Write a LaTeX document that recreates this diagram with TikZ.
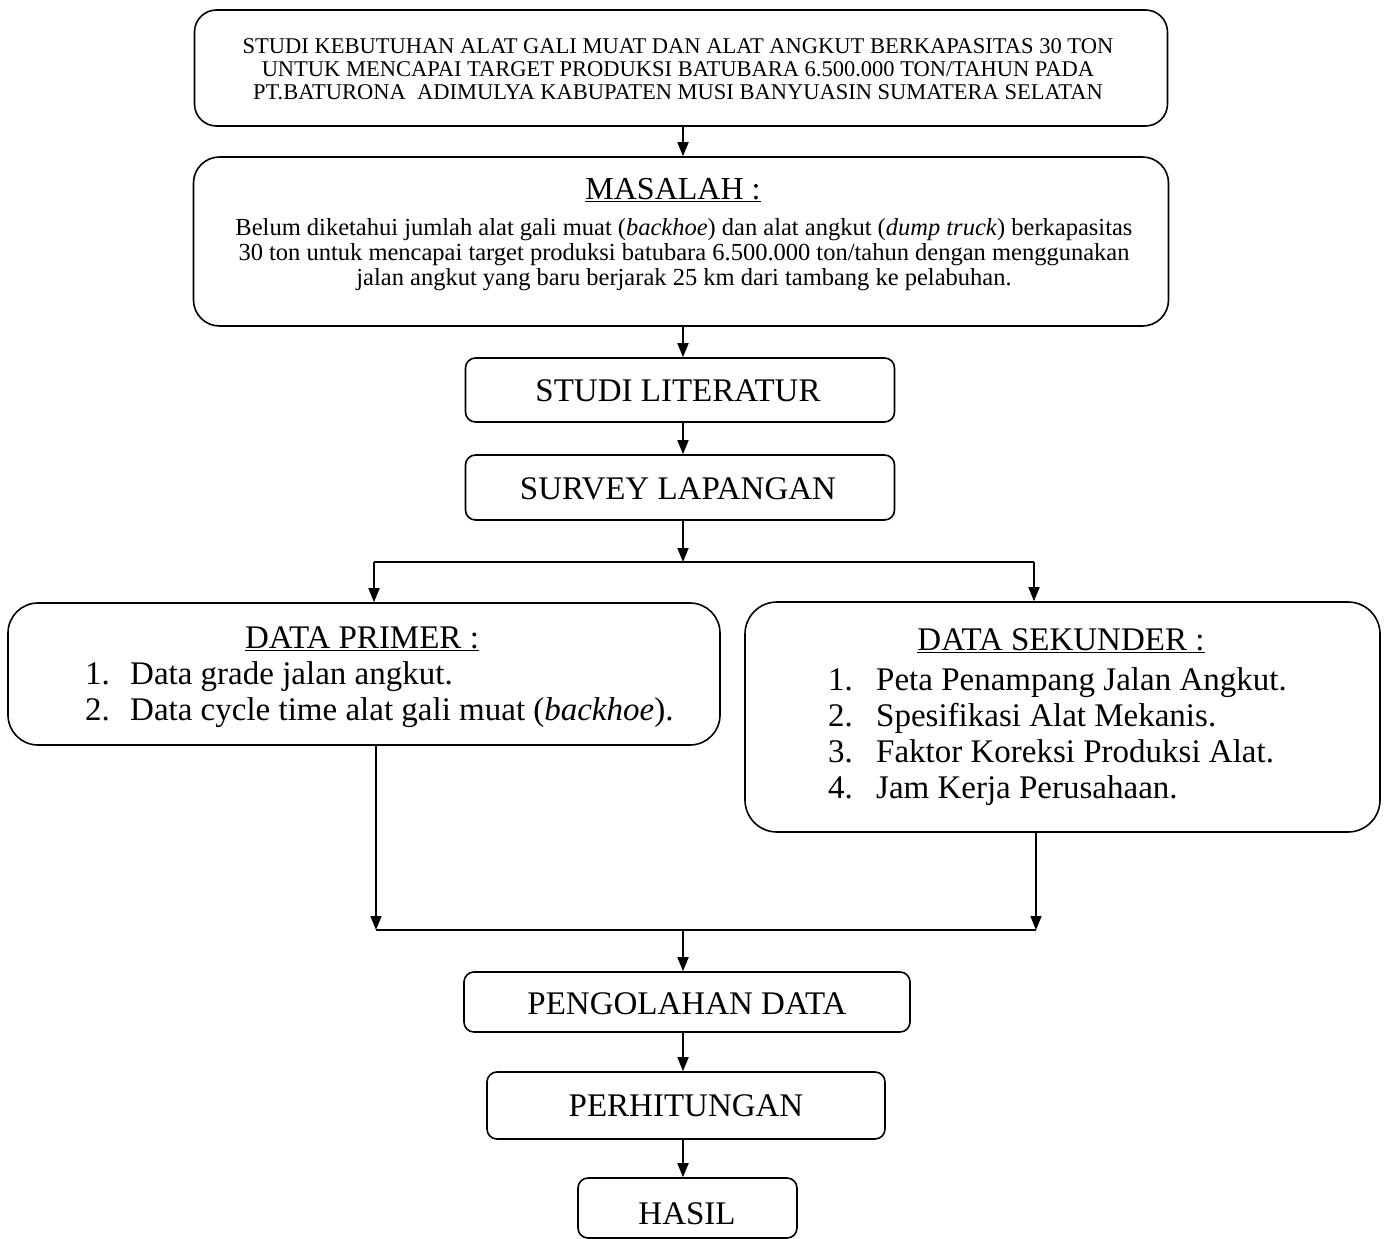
\documentclass[tikz,border=0pt]{standalone}
\usepackage{fontspec}
\setmainfont{Liberation Serif}
\usetikzlibrary{arrows.meta,calc}
\begin{document}
\begin{tikzpicture}[x=1pt,y=-1pt,
  box/.style={draw,line width=1.6pt,rectangle,inner sep=0pt},
  txt/.style={inner sep=0pt,align=center},
  arr/.style={line width=1.6pt,-{Triangle[length=14pt,width=11pt]}},
  ln/.style={line width=1.6pt},
  big/.style={font=\fontsize{33}{36}\selectfont},
  small/.style={font=\fontsize{22.5}{23}\selectfont}]
\useasboundingbox (0,0) rectangle (1385,1239);
\fill[white] (0,0) rectangle (1385,1239);

% boxes
\node[box,rounded corners=22pt,minimum width=973pt,minimum height=116pt] (title) at (681,68) {};
\node[box,rounded corners=26pt,minimum width=975pt,minimum height=169pt] (masalah) at (681,241.5) {};
\node[box,rounded corners=10pt,minimum width=429pt,minimum height=64pt] (studi) at (680,390) {};
\node[box,rounded corners=10pt,minimum width=429pt,minimum height=65pt] (survey) at (680,487.5) {};
\node[box,rounded corners=30pt,minimum width=712pt,minimum height=142pt] (primer) at (364,674) {};
\node[box,rounded corners=32pt,minimum width=635pt,minimum height=230pt] (sekunder) at (1062.5,717) {};
\node[box,rounded corners=10pt,minimum width=446pt,minimum height=60pt] (olah) at (687,1002) {};
\node[box,rounded corners=10pt,minimum width=398pt,minimum height=67pt] (hitung) at (686,1105.5) {};
\node[box,rounded corners=10pt,minimum width=219pt,minimum height=60pt] (hasil) at (687.5,1208) {};

% texts
\node[txt,small] (titletxt) at (678,69) {STUDI KEBUTUHAN ALAT GALI MUAT DAN ALAT ANGKUT BERKAPASITAS 30 TON\\
UNTUK MENCAPAI TARGET PRODUKSI BATUBARA 6.500.000 TON/TAHUN PADA\\
PT.BATURONA\ \ ADIMULYA KABUPATEN MUSI BANYUASIN SUMATERA SELATAN};
\node[txt,font=\fontsize{32}{36}\selectfont] (masalahhead) at (673,190) {\underline{MASALAH :}};
\node[txt,font=\fontsize{24.5}{25}\selectfont] (masalahtxt) at (684,255) {Belum diketahui jumlah alat gali muat (\textit{backhoe}) dan alat angkut (\textit{dump truck}) berkapasitas\\
30 ton untuk mencapai target produksi batubara 6.500.000 ton/tahun dengan menggunakan\\
jalan angkut yang baru berjarak 25 km dari tambang ke pelabuhan.};
\node[txt,big] (studitxt) at (678,391) {STUDI LITERATUR};
\node[txt,big] (surveytxt) at (678,489) {SURVEY LAPANGAN};
\node[txt,big] (primerhead) at (362,639) {\underline{DATA PRIMER :}};
\node[txt,big,align=left,anchor=west] (primeritems) at (85,695) {\makebox[45pt][l]{1.}Data grade jalan angkut.\\
\makebox[45pt][l]{2.}Data cycle time alat gali muat (\textit{backhoe}).};
\node[txt,big] (sekunderhead) at (1061,641) {\underline{DATA SEKUNDER :}};
\node[txt,big,align=left,anchor=west] (sekunderitems) at (828,737) {\makebox[48pt][l]{1.}Peta Penampang Jalan Angkut.\\
\makebox[48pt][l]{2.}Spesifikasi Alat Mekanis.\\
\makebox[48pt][l]{3.}Faktor Koreksi Produksi Alat.\\
\makebox[48pt][l]{4.}Jam Kerja Perusahaan.};
\node[txt,big] (olahtxt) at (687,1004) {PENGOLAHAN DATA};
\node[txt,big] (hitungtxt) at (686,1106) {PERHITUNGAN};
\node[txt,big] (hasiltxt) at (687,1214) {HASIL};

% connectors
\coordinate (sc) at (683,562);
\coordinate (sl) at (374,562);
\coordinate (sr) at (1034,562);
\coordinate (ml) at (376,930);
\coordinate (mr) at (1036,930);
\coordinate (mc) at (683,930);

\draw[arr] (title.south -| sc) -- (masalah.north -| sc);
\draw[arr] (masalah.south -| sc) -- (studi.north -| sc);
\draw[arr] (studi.south -| sc) -- (survey.north -| sc);
\draw[arr] (survey.south -| sc) -- (sc);
\draw[ln] (sl) -- (sr);
\draw[arr] (sl) -- (sl |- primer.north);
\draw[arr] (sr) -- (sr |- sekunder.north);
\draw[arr] (ml |- primer.south) -- (ml);
\draw[arr] (mr |- sekunder.south) -- (mr);
\draw[ln] (ml) -- (mr);
\draw[arr] (mc) -- (olah.north -| mc);
\draw[arr] (olah.south -| mc) -- (hitung.north -| mc);
\draw[arr] (hitung.south -| mc) -- (hasil.north -| mc);
\end{tikzpicture}
\end{document}
